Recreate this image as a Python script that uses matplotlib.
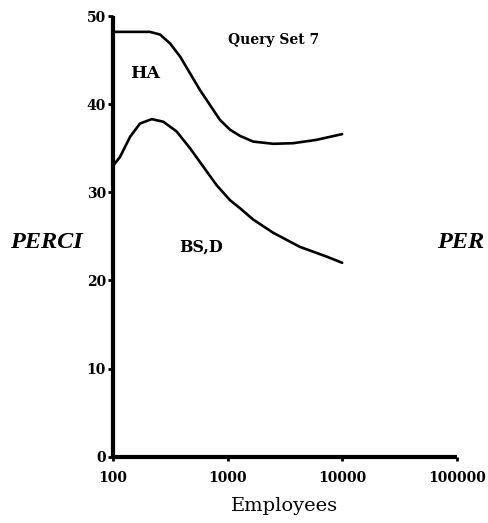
import matplotlib
matplotlib.use("Agg")
import matplotlib.pyplot as plt

# ---- data ----
ha_x = [100, 150, 210, 257, 314, 385, 470, 574, 702, 859, 1050, 1282, 1675, 2505, 3745, 5980, 10000]
ha_y = [48.2, 48.2, 48.2, 47.9, 46.9, 45.4, 43.5, 41.6, 39.9, 38.2, 37.1, 36.4, 35.75, 35.5, 35.57, 35.95, 36.6]

bsd_x = [100, 115, 141, 172, 218, 275, 359, 470, 614, 803, 1050, 1282, 1675, 2505, 4285, 7330, 10000]
bsd_y = [33.0, 34.0, 36.3, 37.8, 38.3, 38.0, 36.9, 35.0, 32.9, 30.8, 29.1, 28.2, 26.9, 25.4, 23.8, 22.7, 22.0]

x_ticks = [100, 1000, 10000, 100000]
x_tick_labels = ["100", "1000", "10000", "100000"]
y_ticks = [0, 10, 20, 30, 40, 50]
y_tick_labels = ["0", "10", "20", "30", "40", "50"]

SERIF = ["DejaVu Serif"]
SERIF2 = ["Liberation Serif", "DejaVu Serif"]

fig = plt.figure(figsize=(4.88, 5.23), dpi=100)
ax = fig.add_axes([0.2316, 0.1268, 0.7043, 0.8426])

for xs, ys in [(ha_x, ha_y), (bsd_x, bsd_y)]:
    ax.plot(xs, ys, color="black", lw=1.9, solid_capstyle="round",
            solid_joinstyle="round")

ax.set_xscale("log")
ax.set_xlim(100, 100000)
ax.set_ylim(0, 50)

for s in ["top", "right"]:
    ax.spines[s].set_visible(False)
for s in ["left", "bottom"]:
    ax.spines[s].set_linewidth(3)
    ax.spines[s].set_capstyle("butt")

ax.set_xticks(x_ticks)
ax.set_xticklabels(x_tick_labels)
ax.minorticks_off()
ax.set_yticks(y_ticks)
ax.set_yticklabels(y_tick_labels)

ax.tick_params(axis="x", direction="out", length=3, width=2, pad=7)
ax.tick_params(axis="y", direction="out", length=3.5, width=2, pad=1.5)
for lab in ax.get_xticklabels() + ax.get_yticklabels():
    lab.set_family(SERIF)
    lab.set_fontweight("bold")
    lab.set_fontsize(10)

ax.set_xlabel("Employees", family=SERIF, fontsize=14, labelpad=9)

# annotations positioned in figure space
fig.text(0.467, 0.9235, "Query Set 7", family=SERIF, fontsize=10,
         fontweight="bold", va="center")
fig.text(0.266, 0.86, "HA", family=SERIF, fontsize=12.5,
         fontweight="bold", va="center")
fig.text(0.367, 0.527, "BS,D", family=SERIF, fontsize=11.5,
         fontweight="bold", va="center")
fig.text(0.02, 0.536, "PERCI", family=SERIF2, fontsize=17.5, fontweight="bold",
         style="italic", va="center")
fig.text(0.8955, 0.536, "PER", family=SERIF2, fontsize=17.5, fontweight="bold",
         style="italic", va="center")

fig.savefig("out.png", dpi=100)
